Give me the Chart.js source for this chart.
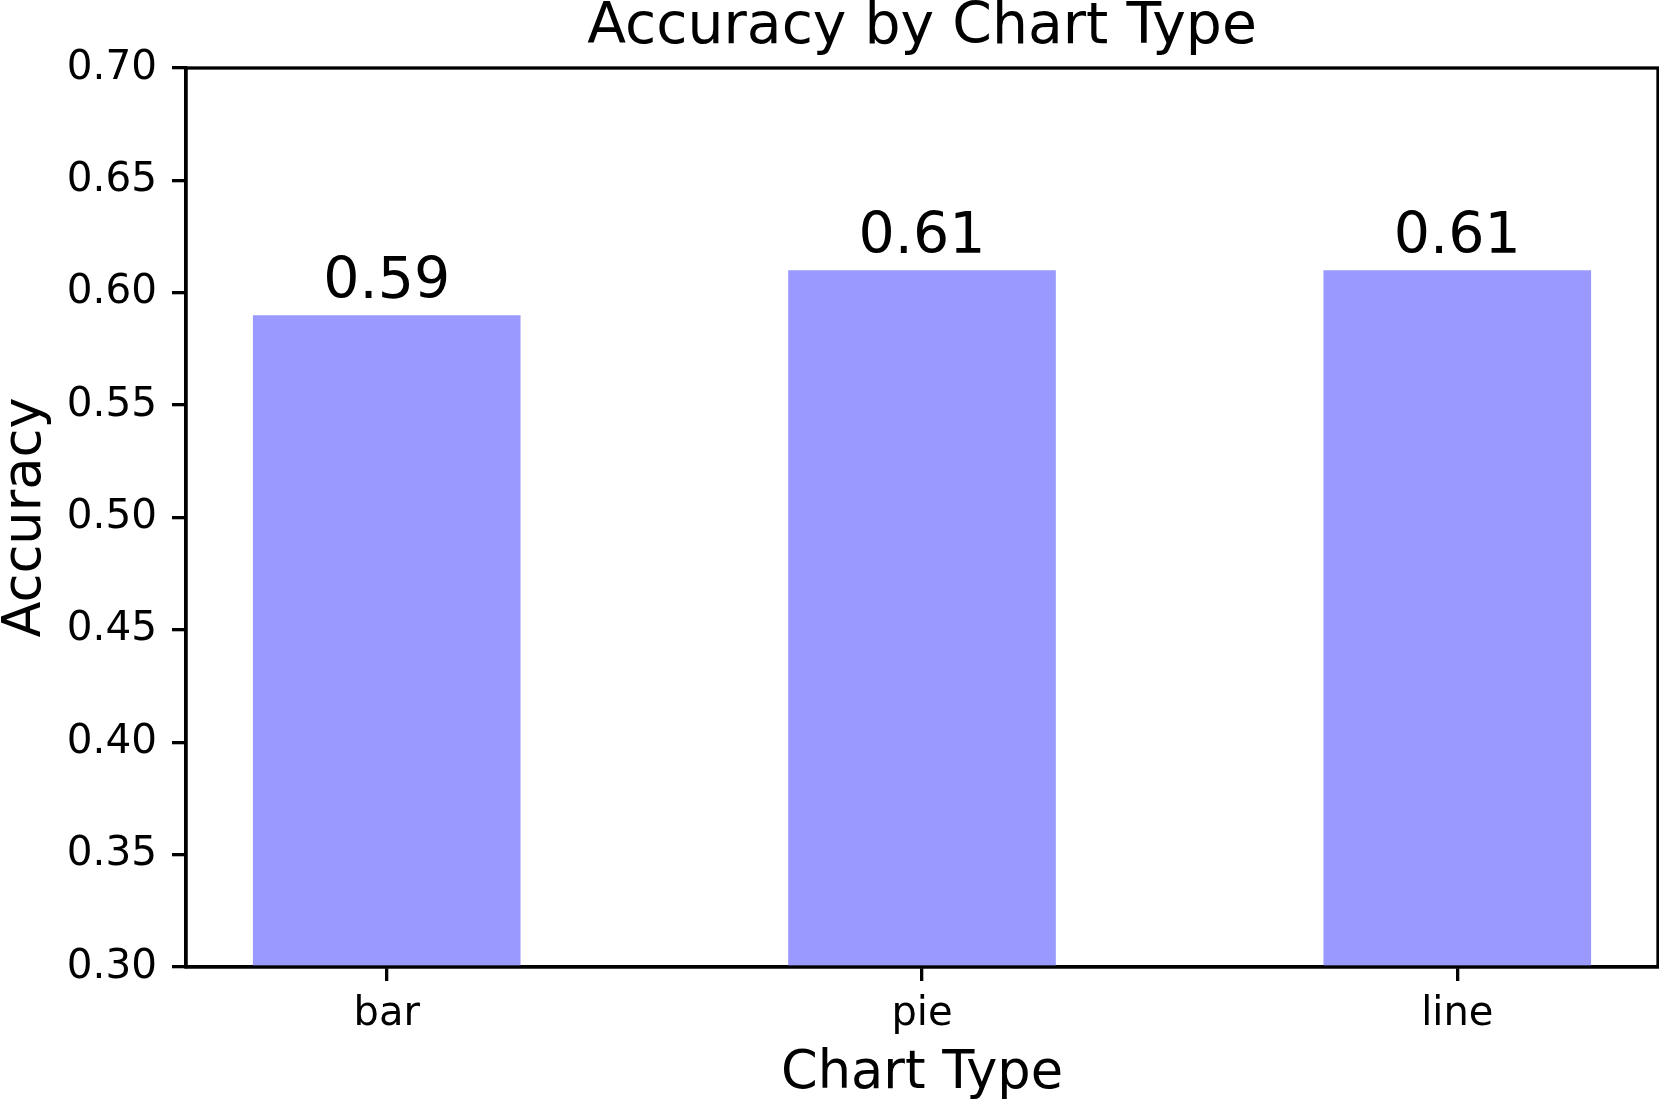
<!DOCTYPE html>
<html>
<head>
<meta charset="utf-8">
<script src="https://cdn.jsdelivr.net/npm/chart.js@4/dist/chart.umd.min.js"></script>
<style>
html,body{margin:0;padding:0;background:#fff;}
#wrap{width:1659px;height:1103px;position:relative;}
</style>
</head>
<body>
<div id="wrap"><canvas id="c" width="1659" height="1103"></canvas></div>
<script>
const categories = ['bar', 'pie', 'line'];
const accuracy = [0.59, 0.61, 0.61];
const yTicks = [0.30, 0.35, 0.40, 0.45, 0.50, 0.55, 0.60, 0.65, 0.70];

const FONT = "'DejaVu Sans', sans-serif";
const LW = 3.3;

const framePlugin = {
  id: 'frame',
  afterDraw(chart) {
    const {ctx, chartArea: a} = chart;
    ctx.save();
    ctx.strokeStyle = '#000';
    ctx.lineWidth = LW;
    ctx.strokeRect(a.left, a.top, a.right - a.left, a.bottom - a.top);
    ctx.restore();
  }
};

const valueLabels = {
  id: 'valueLabels',
  afterDatasetsDraw(chart) {
    const {ctx} = chart;
    const meta = chart.getDatasetMeta(0);
    ctx.save();
    ctx.font = '57px ' + FONT;
    ctx.fillStyle = '#000';
    ctx.textAlign = 'center';
    ctx.textBaseline = 'alphabetic';
    meta.data.forEach((bar, i) => {
      ctx.fillText(accuracy[i].toFixed(2), bar.x, bar.y - 17);
    });
    ctx.restore();
  }
};

new Chart(document.getElementById('c'), {
  type: 'bar',
  data: {
    datasets: [{
      data: categories.map((c, i) => ({x: i, y: accuracy[i]})),
      backgroundColor: 'rgb(153,153,255)',
      borderWidth: 0,
      categoryPercentage: 0.5,
      barPercentage: 1.0
    }]
  },
  options: {
    responsive: false,
    animation: false,
    devicePixelRatio: 1,
    layout: {padding: {left: 0, right: 1, top: 0, bottom: 0}},
    plugins: {
      legend: {display: false},
      tooltip: {enabled: false},
      title: {display: false}
    },
    scales: {
      x: {
        type: 'linear',
        position: 'bottom',
        min: -0.375,
        max: 2.375,
        offset: false,
        afterBuildTicks(scale) {
          scale.ticks = categories.map((c, i) => ({value: i}));
        },
        afterFit(scale) { scale.height = 136; },
        ticks: {
          autoSkip: false,
          maxRotation: 0,
          padding: 10,
          color: '#000',
          font: {family: FONT, size: 40},
          callback: (v) => categories[v]
        },
        grid: {drawOnChartArea: false, drawTicks: true, tickLength: 14, color: '#000', lineWidth: LW, offset: false},
        border: {display: true, color: '#000', width: LW},
        title: {
          display: true,
          text: 'Chart Type',
          color: '#000',
          font: {family: FONT, size: 52.6, lineHeight: 1.1},
          padding: {top: 0, bottom: 0}
        }
      },
      x2: {
        type: 'linear',
        position: 'top',
        min: -0.375,
        max: 2.375,
        offset: false,
        afterFit(scale) { scale.height = 68; },
        ticks: {display: false},
        grid: {display: false, drawTicks: false},
        border: {display: false},
        title: {
          display: true,
          text: 'Accuracy by Chart Type',
          color: '#000',
          font: {family: FONT, size: 56.8, lineHeight: 0.98},
          padding: {top: 0, bottom: 0}
        }
      },
      y: {
        min: 0.30,
        max: 0.70,
        afterBuildTicks(scale) {
          scale.ticks = yTicks.map(v => ({value: v}));
        },
        afterFit(scale) { scale.width = 186; },
        ticks: {
          padding: 15,
          color: '#000',
          font: {family: FONT, size: 40.5},
          callback: (v) => Number(v).toFixed(2)
        },
        grid: {drawOnChartArea: false, drawTicks: true, tickLength: 14, color: '#000', lineWidth: LW},
        border: {display: true, color: '#000', width: LW},
        title: {
          display: true,
          text: 'Accuracy',
          color: '#000',
          font: {family: FONT, size: 52.6, lineHeight: 1.0},
          padding: {top: 0, bottom: 0}
        }
      }
    }
  },
  plugins: [framePlugin, valueLabels]
});
</script>
</body>
</html>
